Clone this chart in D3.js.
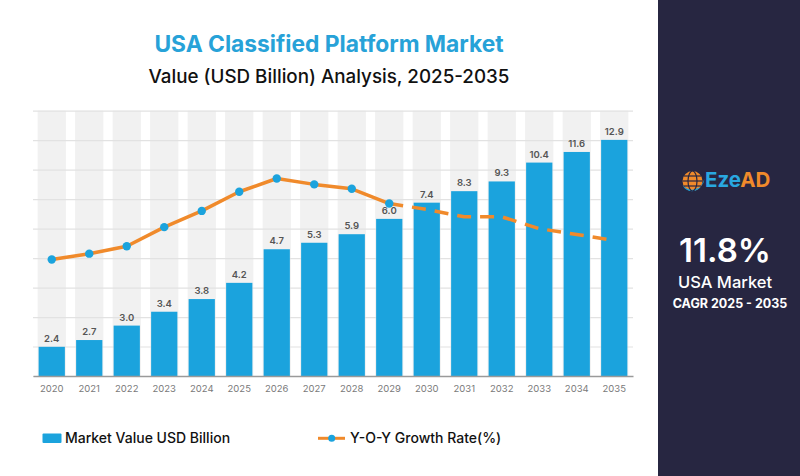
<!DOCTYPE html>
<html>
<head>
<meta charset="utf-8">
<script src="https://cdn.jsdelivr.net/npm/d3@7"></script>
<style>
  body { margin: 0; background: #fff; }
  svg { display: block; font-family: Inter, "Noto Sans", sans-serif; }
</style>
</head>
<body>
<div id="chart"></div>
<script>
const years = ["2020","2021","2022","2023","2024","2025","2026","2027","2028","2029","2030","2031","2032","2033","2034","2035"];
// labels printed above the bars (USD billion)
const marketValue = [2.4, 2.7, 3.0, 3.4, 3.8, 4.2, 4.7, 5.3, 5.9, 6.0, 7.4, 8.3, 9.3, 10.4, 11.6, 12.9];
// bar heights as drawn, in gridline steps (the picture is not to scale)
const barLevel = [0.99, 1.22, 1.71, 2.18, 2.61, 3.16, 4.30, 4.52, 4.81, 5.33, 5.88, 6.27, 6.60, 7.24, 7.60, 8.01];
// Y-O-Y growth rate (%), hidden axis 0-18
const growth = [7.9, 8.3, 8.8, 10.1, 11.2, 12.5, 13.4, 13.0, 12.7, 11.7, 11.3, 10.8, 10.8, 10.0, 9.6, 9.2];
const forecastFrom = "2029";

const W = 800, H = 476;
const margin = {top: 110.7, right: 167, bottom: 100, left: 33},
    width = W - margin.left - margin.right,
    height = H - margin.top - margin.bottom;

const svg = d3.select("#chart")
    .append("svg")
    .attr("width", W)
    .attr("height", H);

// right panel
svg.append("rect")
    .attr("x", 658).attr("y", 0)
    .attr("width", W - 658).attr("height", H)
    .attr("fill", "#272641");

// titles
svg.append("text")
    .attr("x", 329).attr("y", 51.5)
    .attr("text-anchor", "middle")
    .attr("font-size", 22.8).attr("font-weight", 700)
    .attr("fill", "#27a2d8")
    .text("USA Classified Platform Market");
svg.append("text")
    .attr("x", 329).attr("y", 83.3)
    .attr("text-anchor", "middle")
    .attr("font-size", 18.8).attr("font-weight", 500)
    .attr("fill", "#111")
    .text("Value (USD Billion) Analysis, 2025-2035");

const g = svg.append("g")
    .attr("transform", `translate(${margin.left},${margin.top})`);

const x = d3.scaleBand()
    .domain(years)
    .range([0, width])
    .paddingInner(0.3)
    .paddingOuter(0.15);

const y = d3.scaleLinear()
    .domain([0, 9])
    .range([height, 0]);

const y2 = d3.scaleLinear()
    .domain([0, 18])
    .range([height, 0]);

// column backgrounds
g.append("g")
    .selectAll("rect")
    .data(years)
    .join("rect")
    .attr("x", d => x(d) - 1)
    .attr("y", 0)
    .attr("width", x.bandwidth() + 2)
    .attr("height", height)
    .attr("fill", "#f1f1f1");

// horizontal grid
g.append("g")
    .call(d3.axisLeft(y).ticks(9).tickSize(-width).tickFormat(""))
    .call(a => a.select(".domain").remove())
    .call(a => a.selectAll(".tick line").attr("stroke", "#e2e2e2").attr("stroke-width", 1.2));

// bars
g.append("g")
    .selectAll("rect")
    .data(years)
    .join("rect")
    .attr("x", d => x(d))
    .attr("y", (d, i) => y(barLevel[i]))
    .attr("width", x.bandwidth())
    .attr("height", (d, i) => height - y(barLevel[i]))
    .attr("fill", "#1ba3dd");

// value labels
g.append("g")
    .selectAll("text")
    .data(years)
    .join("text")
    .attr("x", d => x(d) + x.bandwidth() / 2)
    .attr("y", (d, i) => y(barLevel[i]) - 5)
    .attr("text-anchor", "middle")
    .attr("font-size", 9.5).attr("font-weight", 600)
    .attr("fill", "#555")
    .text((d, i) => marketValue[i].toFixed(1));

// x axis
const xAxis = g.append("g")
    .attr("transform", `translate(0,${height})`)
    .call(d3.axisBottom(x).tickSize(0).tickPadding(9));
xAxis.select(".domain").attr("stroke", "#9a9a9a").attr("stroke-width", 1.5);
xAxis.selectAll("text")
    .attr("font-family", "Inter, sans-serif")
    .attr("font-size", 9.5)
    .attr("fill", "#7a7a7a");

// growth line
const pts = years.map((d, i) => ({year: d, v: growth[i]}));
const cut = years.indexOf(forecastFrom);
const line = d3.line()
    .x(d => x(d.year) + x.bandwidth() / 2)
    .y(d => y2(d.v));

g.append("path")
    .datum(pts.slice(0, cut + 1))
    .attr("d", line)
    .attr("fill", "none")
    .attr("stroke", "#f08a2b")
    .attr("stroke-width", 3.5)
    .attr("stroke-linejoin", "round")
    .attr("stroke-linecap", "round");

g.append("path")
    .datum(pts.slice(cut))
    .attr("d", line)
    .attr("fill", "none")
    .attr("stroke", "#f08a2b")
    .attr("stroke-width", 3.5)
    .attr("stroke-linejoin", "round")
    .attr("stroke-dasharray", "14,9");

g.append("g")
    .selectAll("circle")
    .data(pts.slice(0, cut + 1))
    .join("circle")
    .attr("cx", d => x(d.year) + x.bandwidth() / 2)
    .attr("cy", d => y2(d.v))
    .attr("r", 4.2)
    .attr("fill", "#1ba3dd");

// legend
const leg = svg.append("g");
leg.append("rect")
    .attr("x", 42.5).attr("y", 433.5)
    .attr("width", 19).attr("height", 9.5)
    .attr("rx", 1)
    .attr("fill", "#1ba3dd");
leg.append("text")
    .attr("x", 65).attr("y", 443.3)
    .attr("font-size", 14).attr("font-weight", 500)
    .attr("fill", "#111")
    .text("Market Value USD Billion");
leg.append("line")
    .attr("x1", 318).attr("x2", 345)
    .attr("y1", 438.3).attr("y2", 438.3)
    .attr("stroke", "#f08a2b").attr("stroke-width", 3);
leg.append("circle")
    .attr("cx", 331.7).attr("cy", 438.3).attr("r", 3.5)
    .attr("fill", "#1ba3dd");
leg.append("text")
    .attr("x", 350).attr("y", 443.3)
    .attr("font-size", 14).attr("font-weight", 500)
    .attr("fill", "#111")
    .text("Y-O-Y Growth Rate(%)");

// logo
const logo = svg.append("g").attr("transform", "translate(692.5,181)");
logo.append("circle").attr("r", 10).attr("fill", "#f08a2b");
logo.append("path")
    .attr("d", "M-10,4 A10.5,10.5 0 0 0 9.5,3 L12,-2 A12.5,12.5 0 0 1 -10,4 Z")
    .attr("fill", "#1ba3dd");
logo.append("ellipse").attr("rx", 4.5).attr("ry", 10)
    .attr("fill", "none").attr("stroke", "#272641").attr("stroke-width", 1.2);
logo.append("line").attr("x1", -10).attr("x2", 10)
    .attr("stroke", "#272641").attr("stroke-width", 1.2);
logo.append("line").attr("x1", -8.5).attr("x2", 8.5).attr("y1", -5).attr("y2", -5)
    .attr("stroke", "#272641").attr("stroke-width", 1.2);
logo.append("line").attr("x1", -8.5).attr("x2", 8.5).attr("y1", 5).attr("y2", 5)
    .attr("stroke", "#272641").attr("stroke-width", 1.2);
const logoText = svg.append("text")
    .attr("x", 705).attr("y", 187)
    .attr("font-size", 20.5).attr("font-weight", 700);
logoText.append("tspan").attr("fill", "#29a8e0").text("Eze");
logoText.append("tspan").attr("fill", "#f08a2b").text("AD");

// CAGR block
svg.append("text")
    .attr("x", 725).attr("y", 261.7)
    .attr("text-anchor", "middle")
    .attr("font-size", 33).attr("font-weight", 600)
    .attr("fill", "#fff")
    .text("11.8%");
svg.append("text")
    .attr("x", 725).attr("y", 288.3)
    .attr("text-anchor", "middle")
    .attr("font-size", 16.5).attr("font-weight", 500)
    .attr("fill", "#fff")
    .text("USA Market");
svg.append("text")
    .attr("x", 730).attr("y", 307.5)
    .attr("text-anchor", "middle")
    .attr("font-size", 12.5).attr("font-weight", 700)
    .attr("fill", "#fff")
    .text("CAGR 2025 - 2035");
</script>
</body>
</html>
